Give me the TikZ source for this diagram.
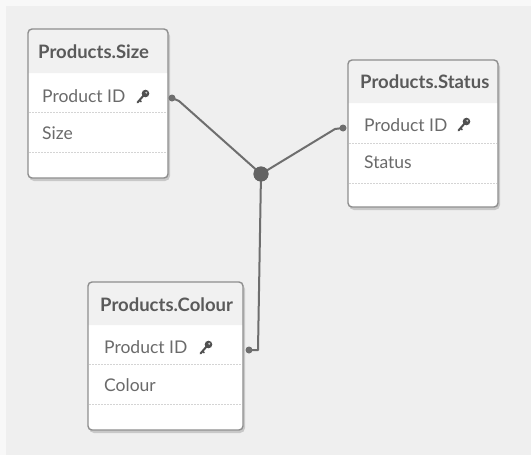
\documentclass[tikz,border=0pt]{standalone}
\usepackage{fontspec}
\setmainfont{Lato}
\definecolor{bgc}{HTML}{EFEFEF}
\definecolor{mrg}{HTML}{F8F8F8}
\definecolor{hdrc}{HTML}{F1F1F1}
\definecolor{brd}{HTML}{8E8E8E}
\definecolor{shd}{HTML}{C8C8C8}
\definecolor{sep}{HTML}{D4D4D4}
\definecolor{txt}{HTML}{6A6A6A}
\definecolor{ttl}{HTML}{5A5A5A}
\definecolor{lnk}{HTML}{6E6E6E}
\definecolor{keyc}{HTML}{505050}
\tikzset{
  tbl/.style={draw=brd, line width=1.4pt, rounded corners=4pt, inner sep=0pt},
  ttltext/.style={anchor=base west, inner sep=0pt, text=ttl, font=\fontsize{18.5}{21}\selectfont\bfseries},
  fldtext/.style={anchor=base west, inner sep=0pt, text=txt, font=\fontsize{17.5}{20}\selectfont},
  rowsep/.style={draw=sep, line width=1pt, dash pattern=on 2pt off 1pt},
  link/.style={draw=lnk, line width=2pt, line cap=round, line join=round},
  enddot/.style={circle, fill=lnk, inner sep=0pt, minimum size=7pt},
  hubdot/.style={circle, fill=lnk!90!black, inner sep=0pt, minimum size=15pt},
  keyic/.pic={
    \fill[keyc] (3.5,-3.5) circle (3.8pt);
    \fill[white!70!keyc] (4.3,-4.3) circle (1.1pt);
    \draw[keyc, line width=2pt, line cap=round] (2,-2) -- (-4.5,5.5);
    \draw[keyc, line width=1.6pt] (-2.6,3.3) -- (-0.6,4.8);
  }
}
\begin{document}
\begin{tikzpicture}[x=1pt,y=-1pt]
\useasboundingbox (0,0) rectangle (531,455);
\fill[mrg] (0,0) rectangle (531,455);
\fill[bgc] (6,6) rectangle (531,455);

% ---------- Products.Size ----------
\fill[shd, rounded corners=5pt] (29,31) rectangle (170,181);
\fill[white, rounded corners=4pt] (28,29) rectangle (168,178);
\fill[hdrc] (28,73) [rounded corners=4pt] -- (28,29) -- (168,29) [sharp corners] -- (168,73) -- cycle;
\draw[rowsep] (29,112) -- (167,112);
\draw[rowsep] (29,152) -- (167,152);
\node[tbl, minimum width=140pt, minimum height=149pt] (size) at (98,103.5) {};
\node[ttltext] (sizeT) at (38,59) {Products.Size};
\node[fldtext] (sizeID) at (42,102) {Product ID};
\node[fldtext] (sizeF) at (42,139) {Size};
\pic at (142,97) {keyic};

% ---------- Products.Status ----------
\fill[shd, rounded corners=5pt] (349,62) rectangle (500,210);
\fill[white, rounded corners=4pt] (348,60) rectangle (498,207);
\fill[hdrc] (348,103) [rounded corners=4pt] -- (348,60) -- (498,60) [sharp corners] -- (498,103) -- cycle;
\draw[rowsep] (349,143) -- (497,143);
\draw[rowsep] (349,183) -- (497,183);
\node[tbl, minimum width=150pt, minimum height=147pt] (status) at (423,133.5) {};
\node[ttltext] (statusT) at (360,88) {Products.Status};
\node[fldtext] (statusID) at (364,131) {Product ID};
\node[fldtext] (statusF) at (364,168) {Status};
\pic at (463,125) {keyic};

% ---------- Products.Colour ----------
\fill[shd, rounded corners=5pt] (89,284) rectangle (245,433);
\fill[white, rounded corners=4pt] (88,282) rectangle (243,430);
\fill[hdrc] (88,325) [rounded corners=4pt] -- (88,282) -- (243,282) [sharp corners] -- (243,325) -- cycle;
\draw[rowsep] (89,364) -- (242,364);
\draw[rowsep] (89,404) -- (242,404);
\node[tbl, minimum width=155pt, minimum height=148pt] (colour) at (165.5,356) {};
\node[ttltext] (colourT) at (100,311) {Products.Colour};
\node[fldtext] (colourID) at (104,353) {Product ID};
\node[fldtext] (colourF) at (104,391) {Colour};
\pic at (205,348) {keyic};

% ---------- links ----------
\node[hubdot] (hub) at (261,174) {};
\node[enddot] (dSize) at (172,98) {};
\node[enddot] (dStatus) at (343,128) {};
\node[enddot] (dColour) at (249,350) {};
\coordinate (bSize) at (179,101);
\coordinate (bStatus) at (335,129);
\coordinate (bColour) at (258,350);
\draw[link] (dSize.center) -- (bSize) -- (hub.center);
\draw[link] (dStatus.center) -- (bStatus) -- (hub.center);
\draw[link] (dColour.center) -- (bColour) -- (hub.center);
\node[hubdot] at (hub) {};
\end{tikzpicture}
\end{document}
